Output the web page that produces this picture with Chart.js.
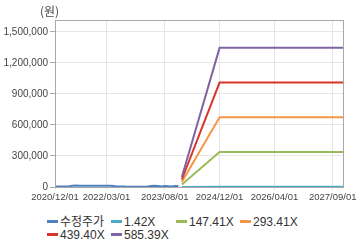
<!DOCTYPE html>
<html>
<head>
<meta charset="utf-8">
<script src="https://cdn.jsdelivr.net/npm/chart.js@4"></script>
<style>
  body { margin: 0; background: #fff; }
  #wrap { position: relative; width: 360px; height: 248px; }
  #box { position: absolute; left: 0; top: 0; width: 360px; height: 208px; }
  #legend { position: absolute; left: 47px; top: 216px; display: grid;
            grid-template-columns: 64px 65px 64px 64px; row-gap: 0px;
            font: 12px "Liberation Sans", Arial, "Noto Sans CJK KR", sans-serif; color: #333; }
  #legend div { height: 13px; line-height: 13px; white-space: nowrap; }
  #legend span { display: inline-block; width: 11px; height: 3px; vertical-align: middle;
                 margin-right: 2px; position: relative; top: -1px; }
</style>
</head>
<body>
<div id="wrap">
  <div id="box"><canvas id="myChart"></canvas></div>
  <div id="legend"></div>
</div>
<script>
// x positions are months counted from 2020/12
const xTickMonths = [0, 15, 32, 48, 64, 81];
const xTickLabels = ['2020/12/01', '2022/03/01', '2023/08/01', '2024/12/01', '2026/04/01', '2027/09/01'];
const xMaxMonth = 84;

const seriesNames = ['수정주가', '1.42X', '147.41X', '293.41X', '439.40X', '585.39X'];
const seriesColors = ['#4f81bd', '#4bacc6', '#9bbb59', '#f79646', '#d9342b', '#8064a2'];

// 수정주가, monthly from 2020/12 to 2023/12
const priceValues = [4000, 4000, 5000, 5000, 6000, 12000, 14000, 13000, 12000, 12000, 11000, 12000,
  13000, 12000, 11000, 12000, 11000, 10000, 5000, 4000, 4000, 3000, 3000, 3000,
  3000, 3000, 3000, 4000, 10000, 11000, 9000, 4000, 9000, 8000, 4000, 9000, 10000];

// band lines: 2024/01, 2024/12, 2027/12
const bandMonths = [37, 48, 84];
const band142 = [234, 3266, 3266];
const band14741 = [24300, 339000, 339000];
const band29341 = [48400, 674800, 674800];
const band43940 = [72500, 1010600, 1010600];
const band58539 = [96600, 1346400, 1346400];

const yTicks = [0, 300000, 600000, 900000, 1200000, 1500000];
const yMax = 1616000;

const toPoints = (months, values) => values.map((v, i) => ({ x: months[i], y: v }));
const priceMonths = priceValues.map((v, i) => i);
const allSeries = [
  toPoints(priceMonths, priceValues),
  toPoints(bandMonths, band142),
  toPoints(bandMonths, band14741),
  toPoints(bandMonths, band29341),
  toPoints(bandMonths, band43940),
  toPoints(bandMonths, band58539)
];

const frame = {
  id: 'frame',
  afterDraw(chart) {
    const { ctx, chartArea: a } = chart;
    ctx.save();
    ctx.strokeStyle = '#a8a8a8';
    ctx.lineWidth = 1;
    ctx.strokeRect(Math.round(a.left) + 0.5, Math.round(a.top) + 0.5,
      Math.round(a.right - a.left), Math.round(a.bottom - a.top));
    ctx.fillStyle = '#444';
    ctx.font = '12px "Noto Sans CJK KR", sans-serif';
    ctx.textBaseline = 'middle';
    ctx.fillText('(원)', 40, 11);
    ctx.restore();
  }
};

new Chart(document.getElementById('myChart').getContext('2d'), {
  type: 'line',
  data: {
    datasets: allSeries.map((pts, i) => ({
      label: seriesNames[i],
      data: pts,
      borderColor: seriesColors[i],
      backgroundColor: seriesColors[i],
      borderWidth: 2,
      pointRadius: 0,
      fill: false,
      tension: 0
    })).reverse()
  },
  options: {
    responsive: true,
    maintainAspectRatio: false,
    animation: false,
    layout: { padding: { top: 20, right: 17, left: 0, bottom: 0 } },
    plugins: { legend: { display: false }, tooltip: { enabled: false } },
    scales: {
      x: {
        type: 'linear',
        min: 0,
        max: xMaxMonth,
        afterBuildTicks: s => { s.ticks = xTickMonths.map(v => ({ value: v })); },
        afterFit: s => { s.height = 21; },
        ticks: {
          autoSkip: false, maxRotation: 0, color: '#444', padding: 2,
          font: { family: '"Liberation Sans", Arial, sans-serif', size: 9.5 },
          callback: v => xTickLabels[xTickMonths.indexOf(v)]
        },
        grid: { color: '#e6e6e6', tickLength: 3, tickColor: '#e6e6e6' },
        border: { color: '#a8a8a8' }
      },
      y: {
        min: 0,
        max: yMax,
        afterBuildTicks: s => { s.ticks = yTicks.map(v => ({ value: v })); },
        afterFit: s => { s.width = 55; },
        ticks: {
          color: '#444', padding: 2,
          font: { family: '"Liberation Sans", Arial, sans-serif', size: 10 },
          callback: v => v.toLocaleString('en-US')
        },
        grid: { color: '#e6e6e6', tickLength: 5, tickColor: '#a8a8a8' },
        border: { color: '#a8a8a8' }
      }
    }
  },
  plugins: [frame]
});

const legend = document.getElementById('legend');
seriesNames.forEach((name, i) => {
  const d = document.createElement('div');
  d.innerHTML = '<span style="background:' + seriesColors[i] + '"></span>' + name;
  legend.appendChild(d);
});
</script>
</body>
</html>
